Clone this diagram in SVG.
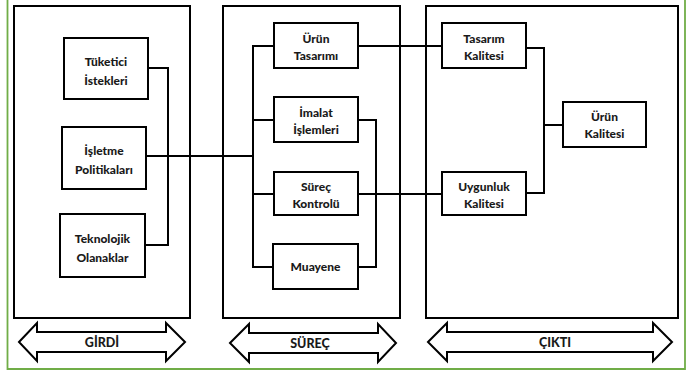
<svg xmlns="http://www.w3.org/2000/svg" width="687" height="371" viewBox="0 0 687 371">
  <style>
    .panel { fill: #ffffff; stroke: #000; stroke-width: 2; }
    .box { fill: #ffffff; stroke: #000; stroke-width: 2; }
    .wire { fill: none; stroke: #000; stroke-width: 2; }
    .band { fill: #ffffff; stroke: #000; stroke-width: 2; stroke-linejoin: miter; }
    .lbl { font-family: Lato, "Open Sans", "Liberation Sans", sans-serif; font-weight: 900; font-size: 12px; fill: #1a1a1a; text-anchor: middle; }
    .cap { font-family: Lato, "Open Sans", "Liberation Sans", sans-serif; font-weight: 900; font-size: 12.5px; fill: #1a1a1a; text-anchor: middle; }
  </style>

  <rect x="0" y="0" width="687" height="371" fill="#ffffff"/>
  <!-- outer frame -->
  <path d="M7.5,0 V369 H685 V0" fill="none" stroke="#70ad47" stroke-width="1.8"/>

  <!-- stage panels -->
  <g id="panels">
    <rect class="panel" x="14" y="6" width="176" height="312"/>
    <rect class="panel" x="223" y="6" width="177" height="312"/>
    <rect class="panel" x="426" y="6" width="252" height="312"/>
  </g>

  <!-- connectors -->
  <g id="connectors">
    <path class="wire" d="M148,68 H168 V245 H145"/>
    <path class="wire" d="M146,156 H253"/>
    <path class="wire" d="M274,46 H253 V267 H274"/>
    <path class="wire" d="M253,120 H274"/>
    <path class="wire" d="M253,194 H274"/>
    <path class="wire" d="M358,120 H376 V267 H358"/>
    <path class="wire" d="M358,194 H442"/>
    <path class="wire" d="M358,46 H442"/>
    <path class="wire" d="M526,48 H544 V193 H526"/>
    <path class="wire" d="M544,125 H563"/>
  </g>

  <!-- input nodes -->
  <g id="tuketici-istekleri">
    <rect class="box" x="64" y="38" width="84" height="61"/>
    <text class="lbl" x="106" y="66">Tüketici</text>
    <text class="lbl" x="106" y="85">İstekleri</text>
  </g>
  <g id="isletme-politikalari">
    <rect class="box" x="62" y="127" width="84" height="62"/>
    <text class="lbl" x="104" y="155">İşletme</text>
    <text class="lbl" x="104" y="174">Politikaları</text>
  </g>
  <g id="teknolojik-olanaklar">
    <rect class="box" x="60" y="214" width="85" height="63"/>
    <text class="lbl" x="102.5" y="243">Teknolojik</text>
    <text class="lbl" x="102.5" y="262">Olanaklar</text>
  </g>

  <!-- process nodes -->
  <g id="urun-tasarimi">
    <rect class="box" x="274" y="23" width="84" height="45"/>
    <text class="lbl" x="316" y="43">Ürün</text>
    <text class="lbl" x="316" y="60">Tasarımı</text>
  </g>
  <g id="imalat-islemleri">
    <rect class="box" x="274" y="97" width="84" height="45"/>
    <text class="lbl" x="316" y="117">İmalat</text>
    <text class="lbl" x="316" y="134">İşlemleri</text>
  </g>
  <g id="surec-kontrolu">
    <rect class="box" x="274" y="172" width="84" height="43"/>
    <text class="lbl" x="316" y="191">Süreç</text>
    <text class="lbl" x="316" y="208">Kontrolü</text>
  </g>
  <g id="muayene">
    <rect class="box" x="273" y="244" width="85" height="45"/>
    <text class="lbl" x="315.5" y="271">Muayene</text>
  </g>

  <!-- output nodes -->
  <g id="tasarim-kalitesi">
    <rect class="box" x="442" y="23" width="84" height="45"/>
    <text class="lbl" x="484" y="43">Tasarım</text>
    <text class="lbl" x="484" y="60">Kalitesi</text>
  </g>
  <g id="uygunluk-kalitesi">
    <rect class="box" x="442" y="172" width="84" height="43"/>
    <text class="lbl" x="484" y="191">Uygunluk</text>
    <text class="lbl" x="484" y="208">Kalitesi</text>
  </g>
  <g id="urun-kalitesi">
    <rect class="box" x="563" y="102" width="83" height="45"/>
    <text class="lbl" x="604.5" y="121">Ürün</text>
    <text class="lbl" x="604.5" y="138">Kalitesi</text>
  </g>

  <!-- stage bands -->
  <g id="girdi-band">
    <path class="band" d="M19,342 L37,323 V332 H166 V323 L185,342 L166,361 V352 H37 V361 Z"/>
    <text class="cap" x="102" y="347">GİRDİ</text>
  </g>
  <g id="surec-band">
    <path class="band" d="M230,343 L249,324 V333 H378 V324 L396,343 L378,362 V353 H249 V362 Z"/>
    <text class="cap" x="310" y="348">SÜREÇ</text>
  </g>
  <g id="cikti-band">
    <path class="band" d="M428,342 L447,323 V332 H653 V323 L672,342 L653,361 V352 H447 V361 Z"/>
    <text class="cap" x="555" y="347">ÇIKTI</text>
  </g>
</svg>
